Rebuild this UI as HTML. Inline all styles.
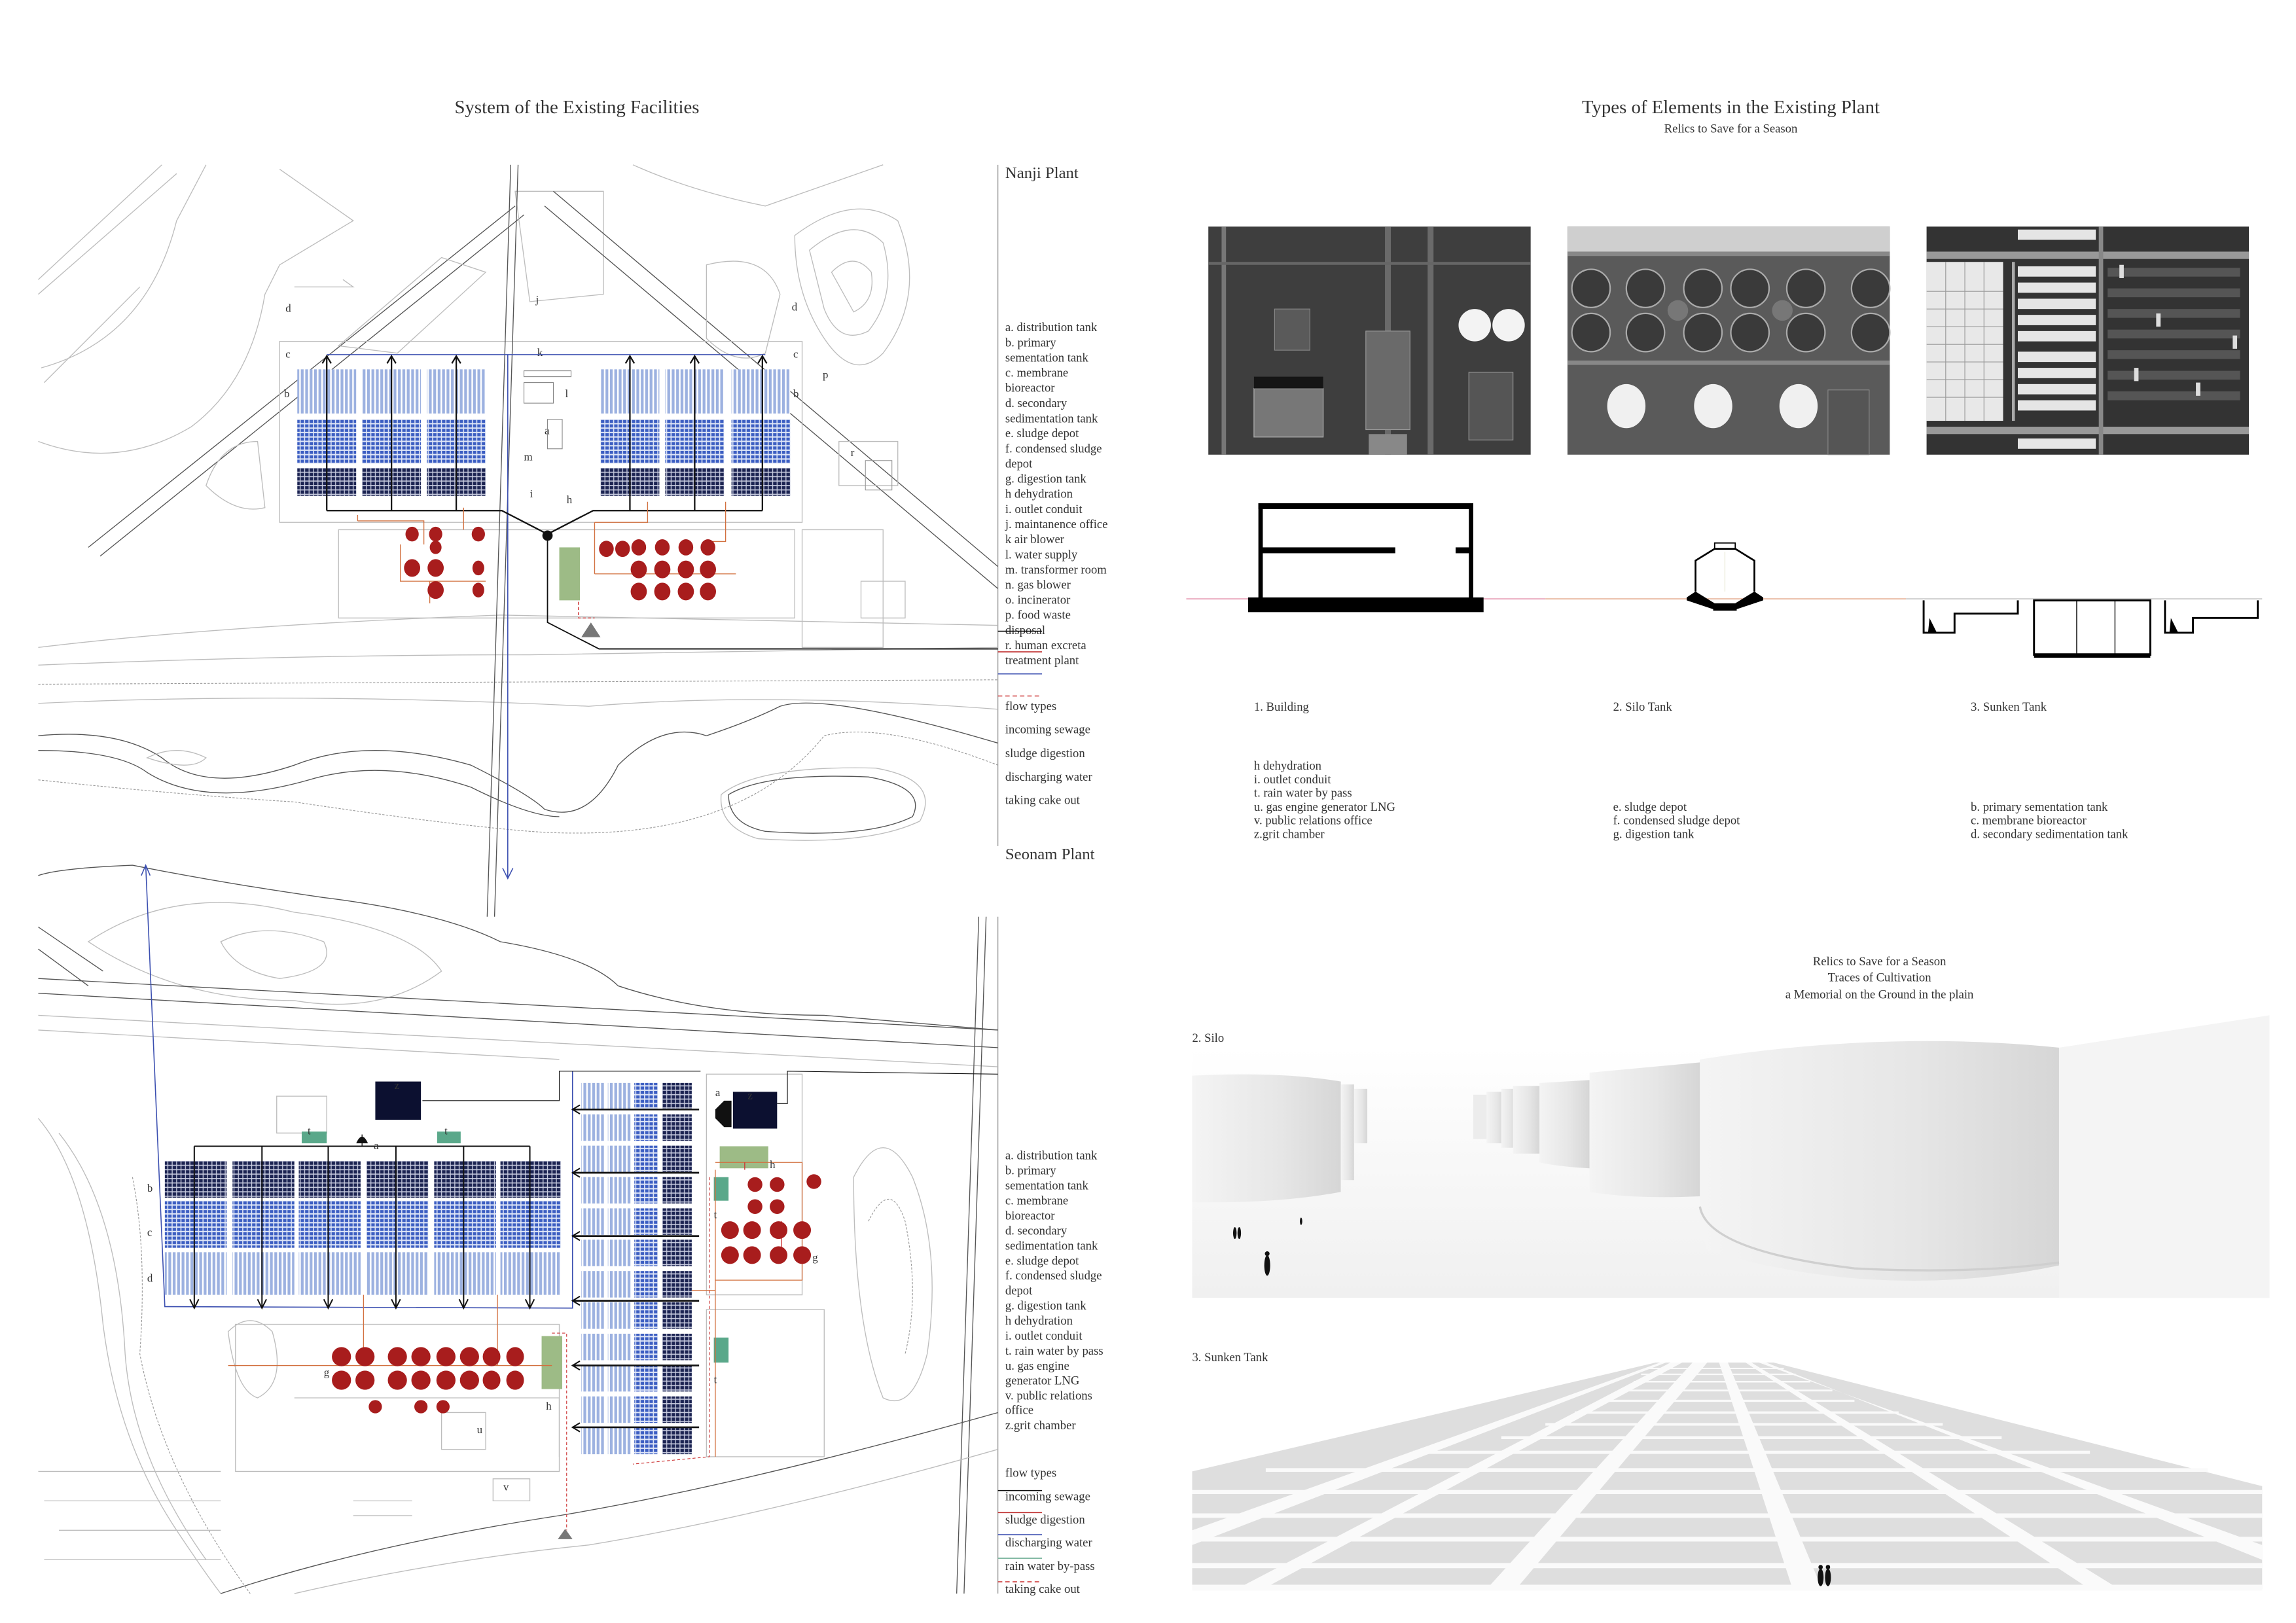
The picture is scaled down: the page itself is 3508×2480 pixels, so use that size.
<!DOCTYPE html>
<html><head><meta charset="utf-8"><style>
html,body{margin:0;padding:0;background:#fff;}
svg{display:block;}
text{font-family:"Liberation Serif",serif;fill:#333;}
.t{font-size:12.8px;}
.s{font-size:8.3px;}
.l{font-size:8.3px;}
.m{font-size:7.5px;}
.map{fill:none;stroke:#bdbdbd;stroke-width:0.6;}
.mapd{fill:none;stroke:#999;stroke-width:0.5;stroke-dasharray:1.5 1;}
.blk{fill:none;stroke:#555;stroke-width:0.6;}
</style></head><body>
<svg width="3508" height="2480" viewBox="0 0 1560 1103" preserveAspectRatio="none" xmlns="http://www.w3.org/2000/svg">
<defs>
<pattern id="lb" width="3" height="10" patternUnits="userSpaceOnUse"><rect width="3" height="10" fill="#fff"/><rect x="0.4" width="1.9" height="10" fill="#9cb1e0"/></pattern>
<pattern id="mb" width="3" height="3" patternUnits="userSpaceOnUse"><rect width="3" height="3" fill="#dfe6f7"/><rect x="0.3" y="0.4" width="2.3" height="2.1" fill="#3c5ec2"/></pattern>
<pattern id="db" width="3" height="3" patternUnits="userSpaceOnUse"><rect width="3" height="3" fill="#c9cde0"/><rect x="0.3" y="0.3" width="2.4" height="2.3" fill="#1c2452"/></pattern>
<linearGradient id="cyl" x1="0" x2="1"><stop offset="0" stop-color="#f4f4f4"/><stop offset="0.6" stop-color="#e6e6e6"/><stop offset="1" stop-color="#d6d6d6"/></linearGradient>
<linearGradient id="gnd" x1="0" y1="0" x2="0" y2="1"><stop offset="0" stop-color="#fff"/><stop offset="1" stop-color="#f0f0f0"/></linearGradient>
</defs>
<rect width="1560" height="1103" fill="#fff"/>

<!-- Titles -->
<text class="t" x="392" y="77" text-anchor="middle">System of the Existing Facilities</text>
<text class="t" x="1176" y="77" text-anchor="middle">Types of Elements in the Existing Plant</text>
<text class="s" x="1176" y="90" text-anchor="middle">Relics to Save for a Season</text>

<!-- ============ NANJI MAP ============ -->
<g>
<line x1="678" y1="112" x2="678" y2="575" stroke="#999" stroke-width="0.6"/>
<path class="map" d="M26 190 L110 112 M26 200 L120 118 M30 260 L60 230 L95 195"/>
<path class="map" d="M26 300 Q80 320 130 290 Q170 260 180 200 L190 180 L240 150 L190 115"/>
<path class="map" d="M28 250 Q100 230 120 150 L140 112"/>
<path class="blk" d="M60 372 L350 140 M68 378 L356 146"/>
<path class="map" d="M200 195 L240 195 L233 190 M230 235 L300 175 L330 185 L270 240 Z"/>
<path class="map" d="M350 130 L410 130 L410 200 L360 205 Z"/>
<path class="blk" d="M370 140 L678 400 M376 130 L678 385"/>
<path class="map" d="M430 112 Q470 130 520 140 L600 112"/>
<path class="map" d="M540 160 Q580 130 610 150 Q630 200 600 240 Q580 260 560 230 Q540 200 540 160 Z"/>
<path class="map" d="M550 170 Q580 145 600 165 Q610 200 590 225 Q570 235 560 210 Z"/>
<path class="map" d="M565 185 Q580 170 592 185 Q595 205 580 212 Z"/>
<path class="map" d="M480 180 Q520 170 530 200 L520 240 Q500 250 480 230 Z"/>
<path class="map" d="M140 330 Q150 300 175 300 L180 345 Q160 350 140 330 Z"/>
<path class="map" d="M190 232 L545 232 L545 355 L190 355 Z"/>
<path class="map" d="M230 360 L540 360 L540 420 L230 420 Z"/>
<path class="map" d="M545 360 L600 360 L600 440 L545 440 Z M570 300 L610 300 L610 330 L570 330 Z M585 395 L615 395 L615 420 L585 420 Z"/>
<path class="map" d="M26 440 Q150 425 340 418 L678 425"/>
<path class="map" d="M26 452 Q200 445 360 445 L678 440"/>
<path class="mapd" d="M26 465 L678 462"/>
<path class="map" d="M26 478 Q200 470 400 480 Q520 470 678 482"/>
<path class="blk" d="M26 500 Q80 495 110 515 Q140 540 200 520 Q250 500 320 520 Q360 540 370 550 Q400 560 420 520 Q450 490 480 500 Q510 490 530 480 Q560 470 678 505"/>
<path class="blk" d="M26 510 Q80 510 100 525 Q140 550 210 530 Q260 515 320 535 Q360 555 380 555"/>
<path class="map" d="M100 515 Q120 505 140 515 Q130 525 100 515 Z"/>
<path class="blk" d="M495 540 Q520 525 590 528 Q630 535 620 555 Q590 570 520 565 Q495 560 495 540 Z"/>
<path class="map" d="M490 540 Q515 520 595 522 Q640 530 625 558 Q590 575 515 570 Q488 562 490 540 Z"/>
<path class="mapd" d="M26 530 Q120 540 200 545 Q300 560 360 565 Q500 575 560 500 Q600 490 678 520"/>
<path class="blk" d="M347 112 L331 623 M352 112 L336 623"/>
<g class="m">
<text x="194" y="212">d</text><text x="538" y="211">d</text>
<text x="364" y="206">j</text>
<text x="194" y="243">c</text><text x="539" y="243">c</text>
<text x="365" y="242">k</text>
<text x="193" y="270">b</text><text x="539" y="270">b</text>
<text x="559" y="257">p</text>
<text x="384" y="270">l</text>
<text x="370" y="295">a</text>
<text x="356" y="313">m</text>
<text x="360" y="338">i</text>
<text x="385" y="342">h</text>
<text x="578" y="310">r</text>
</g>
<rect x="356" y="252" width="32" height="4" fill="none" stroke="#888" stroke-width="0.5"/>
<rect x="356" y="260" width="20" height="14" fill="none" stroke="#888" stroke-width="0.5"/>
<rect x="372" y="285" width="10" height="20" fill="none" stroke="#888" stroke-width="0.5"/>
<rect x="588" y="313" width="18" height="20" fill="none" stroke="#999" stroke-width="0.5"/>

<g>
<rect x="202" y="251" width="40" height="30" fill="url(#lb)"/><rect x="246" y="251" width="40" height="30" fill="url(#lb)"/><rect x="290" y="251" width="40" height="30" fill="url(#lb)"/>
<rect x="202" y="285" width="40" height="30" fill="url(#mb)"/><rect x="246" y="285" width="40" height="30" fill="url(#mb)"/><rect x="290" y="285" width="40" height="30" fill="url(#mb)"/>
<rect x="202" y="318" width="40" height="19" fill="url(#db)"/><rect x="246" y="318" width="40" height="19" fill="url(#db)"/><rect x="290" y="318" width="40" height="19" fill="url(#db)"/>
<rect x="408" y="251" width="40" height="30" fill="url(#lb)"/><rect x="452" y="251" width="40" height="30" fill="url(#lb)"/><rect x="497" y="251" width="40" height="30" fill="url(#lb)"/>
<rect x="408" y="285" width="40" height="30" fill="url(#mb)"/><rect x="452" y="285" width="40" height="30" fill="url(#mb)"/><rect x="497" y="285" width="40" height="30" fill="url(#mb)"/>
<rect x="408" y="318" width="40" height="19" fill="url(#db)"/><rect x="452" y="318" width="40" height="19" fill="url(#db)"/><rect x="497" y="318" width="40" height="19" fill="url(#db)"/>
</g>
<line x1="222" y1="241" x2="520" y2="241" stroke="#3b4fb0" stroke-width="0.7"/>
<line x1="345" y1="241" x2="345" y2="597" stroke="#3b4fb0" stroke-width="0.7"/>
<path d="M341.5 590 L345 597 L348.5 590" fill="none" stroke="#3b4fb0" stroke-width="0.7"/>
<g stroke="#111" stroke-width="1" fill="none">
<path d="M222 347 L341 347 L372 363 L403 347 L518 347"/>
<path d="M222 347 V243 M266 347 V243 M310 347 V243 M428 347 V243 M472 347 V243 M518 347 V243"/>
<path d="M219 247 L222 242 L225 247 M263 247 L266 242 L269 247 M307 247 L310 242 L313 247 M425 247 L428 242 L431 247 M469 247 L472 242 L475 247 M515 247 L518 242 L521 247"/>
<path d="M372 363 L372 423 L407 441 L678 441" stroke-width="0.8"/>
</g>
<circle cx="372" cy="364" r="3.5" fill="#111"/>
<path d="M243 354 L243 350 M243 354 L288 354 L288 370 M272 370 L272 395 L330 395 M315 345 L315 360 M404 355 L404 390 M404 355 L440 355 L440 341 M493 341 L493 368 L480 368 M404 390 L500 390 M292 395 L292 410" fill="none" stroke="#d2703f" stroke-width="0.6"/>
<path d="M393 374 L393 420 L404 420" fill="none" stroke="#c33" stroke-width="0.6" stroke-dasharray="2 1.5"/>
<g fill="#a81d1d">
<ellipse cx="280" cy="363" rx="4.5" ry="5"/><ellipse cx="296" cy="363" rx="4.5" ry="5"/><ellipse cx="325" cy="363" rx="4.5" ry="5"/>
<ellipse cx="296" cy="372" rx="4" ry="4.5"/>
<ellipse cx="280" cy="386" rx="5.5" ry="6"/><ellipse cx="296" cy="386" rx="5.5" ry="6"/><ellipse cx="325" cy="386" rx="4" ry="5"/>
<ellipse cx="296" cy="401" rx="5.5" ry="6"/><ellipse cx="325" cy="401" rx="4" ry="5"/>
<ellipse cx="412" cy="373" rx="5" ry="5.5"/><ellipse cx="423" cy="373" rx="5" ry="5.5"/><ellipse cx="434" cy="372" rx="5" ry="5.5"/><ellipse cx="450" cy="372" rx="5" ry="5.5"/><ellipse cx="466" cy="372" rx="5" ry="5.5"/><ellipse cx="481" cy="372" rx="5" ry="5.5"/>
<ellipse cx="434" cy="387" rx="5.5" ry="6"/><ellipse cx="450" cy="387" rx="5.5" ry="6"/><ellipse cx="466" cy="387" rx="5.5" ry="6"/><ellipse cx="481" cy="387" rx="5.5" ry="6"/>
<ellipse cx="434" cy="402" rx="5.5" ry="6"/><ellipse cx="450" cy="402" rx="5.5" ry="6"/><ellipse cx="466" cy="402" rx="5.5" ry="6"/><ellipse cx="481" cy="402" rx="5.5" ry="6"/>
</g>
<rect x="380" y="372" width="14" height="36" fill="#9dbb86"/>
<path d="M395 433 L401.5 423 L408 433 Z" fill="#777"/>
</g>

<!-- Nanji legend -->
<g class="l">
<text x="683" y="121" style="font-size:11px">Nanji Plant</text>
<text x="683" y="225">a. distribution tank</text>
<text x="683" y="235.5">b. primary</text>
<text x="683" y="245.8">sementation tank</text>
<text x="683" y="256">c. membrane</text>
<text x="683" y="266.3">bioreactor</text>
<text x="683" y="276.6">d. secondary</text>
<text x="683" y="287">sedimentation tank</text>
<text x="683" y="297.2">e. sludge depot</text>
<text x="683" y="307.5">f. condensed sludge</text>
<text x="683" y="317.8">depot</text>
<text x="683" y="328">g. digestion tank</text>
<text x="683" y="338.3">h dehydration</text>
<text x="683" y="348.6">i. outlet conduit</text>
<text x="683" y="359">j. maintanence office</text>
<text x="683" y="369.2">k air blower</text>
<text x="683" y="379.5">l. water supply</text>
<text x="683" y="389.8">m. transformer room</text>
<text x="683" y="400">n. gas blower</text>
<text x="683" y="410.3">o. incinerator</text>
<text x="683" y="420.6">p. food waste</text>
<text x="683" y="431">disposal</text>
<text x="683" y="441.2">r. human excreta</text>
<text x="683" y="451.5">treatment plant</text>
<text x="683" y="482.5">flow types</text>
<text x="683" y="498.3">incoming sewage</text>
<text x="683" y="514.5">sludge digestion</text>
<text x="683" y="530.5">discharging water</text>
<text x="683" y="546.5">taking cake out</text>
</g>
<line x1="678" y1="429" x2="708" y2="429" stroke="#111" stroke-width="0.7"/>
<line x1="678" y1="443" x2="708" y2="443" stroke="#b22" stroke-width="0.7"/>
<line x1="678" y1="458" x2="708" y2="458" stroke="#3b4fb0" stroke-width="0.7"/>
<line x1="678" y1="473" x2="708" y2="473" stroke="#c33" stroke-width="0.7" stroke-dasharray="3 2"/>

<!-- ============ SEONAM MAP ============ -->
<g>
<text class="l" x="683" y="584" style="font-size:11px">Seonam Plant</text>
<line x1="678" y1="623" x2="678" y2="1083" stroke="#999" stroke-width="0.6"/>
<path class="blk" d="M26 595 Q40 590 90 588 Q150 600 220 610 Q300 620 340 640 Q400 650 420 670 Q480 690 560 690 L678 700"/>
<path class="map" d="M60 640 Q120 600 200 620 Q280 630 300 660 Q260 690 200 680 Q120 680 60 640 Z"/>
<path class="map" d="M150 640 Q180 625 220 640 Q230 660 190 665 Q160 660 150 640 Z"/>
<path class="blk" d="M26 665 L678 700 M26 675 L678 712"/>
<path class="map" d="M26 690 L678 725 M26 700 L380 720"/>
<path class="blk" d="M26 630 L70 660 M26 645 L60 670"/>
<path class="blk" d="M665 623 L650 1083 M670 623 L655 1083"/>
<path class="map" d="M26 760 Q60 800 70 900 Q80 980 120 1040 Q140 1070 150 1083"/>
<path class="map" d="M40 770 Q80 820 85 920 Q90 990 140 1060"/>
<path class="mapd" d="M90 800 Q100 850 95 920 Q110 1000 170 1083"/>
<path class="map" d="M26 1000 L150 1000 M30 1020 L150 1020 M40 1040 L150 1040 M30 1060 L150 1060"/>
<path class="blk" d="M150 1083 Q250 1050 380 1030 Q500 1010 678 960"/>
<path class="map" d="M200 1083 Q300 1060 400 1050 Q520 1030 678 985"/>
<path class="map" d="M580 800 Q600 760 620 800 Q640 850 630 920 Q620 960 600 950 Q580 900 580 800 Z"/>
<path class="mapd" d="M590 830 Q605 800 615 830 Q625 880 615 920"/>
<path class="map" d="M160 900 L380 900 L380 1000 L160 1000 Z M155 905 Q170 890 185 905 Q195 940 175 950 Q160 945 155 905 Z"/>
<path class="map" d="M480 730 L545 730 L545 880 L480 880 Z M480 890 L560 890 L560 990 L480 990 Z"/>
<path class="map" d="M200 950 L380 950 L380 990 M300 960 L330 960 L330 985 L300 985 Z M335 1005 L360 1005 L360 1020 L335 1020 Z"/>
<path class="map" d="M188 745 L222 745 L222 770 L188 770 Z M240 1020 L280 1020 M240 1030 L280 1030"/>
<g>
<rect x="112" y="789" width="42" height="25" fill="url(#db)"/><rect x="158" y="789" width="42" height="25" fill="url(#db)"/><rect x="203" y="789" width="42" height="25" fill="url(#db)"/><rect x="249" y="789" width="42" height="25" fill="url(#db)"/><rect x="295" y="789" width="42" height="25" fill="url(#db)"/><rect x="340" y="789" width="41" height="25" fill="url(#db)"/>
<rect x="112" y="816" width="42" height="32" fill="url(#mb)"/><rect x="158" y="816" width="42" height="32" fill="url(#mb)"/><rect x="203" y="816" width="42" height="32" fill="url(#mb)"/><rect x="249" y="816" width="42" height="32" fill="url(#mb)"/><rect x="295" y="816" width="42" height="32" fill="url(#mb)"/><rect x="340" y="816" width="41" height="32" fill="url(#mb)"/>
<rect x="112" y="851" width="42" height="29" fill="url(#lb)"/><rect x="158" y="851" width="42" height="29" fill="url(#lb)"/><rect x="203" y="851" width="42" height="29" fill="url(#lb)"/><rect x="249" y="851" width="42" height="29" fill="url(#lb)"/><rect x="295" y="851" width="42" height="29" fill="url(#lb)"/><rect x="340" y="851" width="41" height="29" fill="url(#lb)"/>
</g>
<g>
<g id="row"><rect x="395" y="736" width="16" height="18" fill="url(#lb)"/><rect x="413" y="736" width="16" height="18" fill="url(#lb)"/><rect x="431" y="736" width="16" height="18" fill="url(#mb)"/><rect x="450" y="736" width="20" height="18" fill="url(#db)"/></g>
<use href="#row" y="21.3"/><use href="#row" y="42.6"/><use href="#row" y="63.9"/><use href="#row" y="85.2"/><use href="#row" y="106.5"/><use href="#row" y="127.8"/><use href="#row" y="149.1"/><use href="#row" y="170.4"/><use href="#row" y="191.7"/><use href="#row" y="213"/><use href="#row" y="234.3"/>
</g>
<rect x="255" y="735" width="31" height="26" fill="#0c1030"/>
<rect x="498" y="742" width="30" height="25" fill="#0c1030"/>
<path d="M486 754 L492 748 L497 748 L497 766 L492 766 L486 760 Z" fill="#111"/>
<path d="M242 777 Q246 768 250 777 Z" fill="#111"/>
<rect x="205" y="769" width="17" height="8" fill="#5aa88a"/><rect x="297" y="769" width="16" height="8" fill="#5aa88a"/>
<rect x="485" y="800" width="10" height="16" fill="#5aa88a"/><rect x="485" y="909" width="10" height="17" fill="#5aa88a"/>
<rect x="489" y="779" width="33" height="15" fill="#9dbb86"/><rect x="368" y="908" width="14" height="36" fill="#9dbb86"/>
<path d="M99 588 L112 888 L389 889 L389 728" fill="none" stroke="#3b4fb0" stroke-width="0.7"/>
<path d="M96 595 L99 588 L102 595" fill="none" stroke="#3b4fb0" stroke-width="0.7"/>
<g stroke="#111" stroke-width="0.9" fill="none">
<path d="M132 779 L360 779 M132 779 V889 M178 779 V889 M223 779 V889 M269 779 V889 M315 779 V889 M360 779 V889"/>
<path d="M129 883 L132 889 L135 883 M175 883 L178 889 L181 883 M220 883 L223 889 L226 883 M266 883 L269 889 L272 883 M312 883 L315 889 L318 883 M357 883 L360 889 L363 883"/>
<path d="M246 779 V771" stroke-width="0.6"/>
<path d="M389 754 L475 754 M389 797 L475 797 M389 840 L475 840 M389 884 L475 884 M389 928 L475 928 M389 970 L475 970" stroke-width="1.2"/>
<path d="M394 751 L389 754 L394 757 M394 794 L389 797 L394 800 M394 837 L389 840 L394 843 M394 881 L389 884 L394 887 M394 925 L389 928 L394 931 M394 967 L389 970 L394 973"/>
<path d="M287 748 L380 748 L380 728 L476 728 M528 750 L535 750 L535 728 L678 730" stroke-width="0.5"/>
</g>
<path d="M155 928 L375 928 M247 880 L247 928 M338 880 L338 928 M486 790 L545 790 L545 870 L486 870 M486 795 L486 990 M470 877 L486 877" fill="none" stroke="#d2703f" stroke-width="0.6"/>
<path d="M506 795 L506 790 M531 830 L531 850" fill="none" stroke="#c33" stroke-width="0.6"/>
<path d="M375 906 L385 906 L385 1040 M482 800 L482 990 L430 995" fill="none" stroke="#c33" stroke-width="0.5" stroke-dasharray="2 1.5"/>
<g fill="#a81d1d">
<ellipse cx="232" cy="922" rx="6.5" ry="6.5"/><ellipse cx="248" cy="922" rx="6.5" ry="6.5"/><ellipse cx="270" cy="922" rx="6.5" ry="6.5"/><ellipse cx="286" cy="922" rx="6.5" ry="6.5"/><ellipse cx="303" cy="922" rx="6.5" ry="6.5"/><ellipse cx="319" cy="922" rx="6.5" ry="6.5"/><ellipse cx="334" cy="922" rx="6" ry="6.5"/><ellipse cx="350" cy="922" rx="6" ry="6.5"/>
<ellipse cx="232" cy="938" rx="6.5" ry="6.5"/><ellipse cx="248" cy="938" rx="6.5" ry="6.5"/><ellipse cx="270" cy="938" rx="6.5" ry="6.5"/><ellipse cx="286" cy="938" rx="6.5" ry="6.5"/><ellipse cx="303" cy="938" rx="6.5" ry="6.5"/><ellipse cx="319" cy="938" rx="6.5" ry="6.5"/><ellipse cx="334" cy="938" rx="6" ry="6.5"/><ellipse cx="350" cy="938" rx="6" ry="6.5"/>
<ellipse cx="255" cy="956" rx="4.5" ry="4.5"/><ellipse cx="286" cy="956" rx="4.5" ry="4.5"/><ellipse cx="301" cy="956" rx="4.5" ry="4.5"/>
<ellipse cx="513" cy="805" rx="5" ry="5"/><ellipse cx="528" cy="805" rx="5" ry="5"/><ellipse cx="553" cy="803" rx="5" ry="5"/>
<ellipse cx="513" cy="820" rx="5" ry="5"/><ellipse cx="528" cy="820" rx="5" ry="5"/>
<ellipse cx="496" cy="836" rx="6" ry="6"/><ellipse cx="511" cy="836" rx="6" ry="6"/><ellipse cx="529" cy="836" rx="6" ry="6"/><ellipse cx="545" cy="836" rx="6" ry="6"/>
<ellipse cx="496" cy="853" rx="6" ry="6"/><ellipse cx="511" cy="853" rx="6" ry="6"/><ellipse cx="529" cy="853" rx="6" ry="6"/><ellipse cx="545" cy="853" rx="6" ry="6"/>
</g>
<path d="M379 1046 L384 1039 L389 1046 Z" fill="#777"/>
<g class="m">
<text x="268" y="740">z</text><text x="508" y="747">z</text><text x="486" y="745">a</text>
<text x="209" y="771">t</text><text x="302" y="771">t</text><text x="254" y="781">a</text>
<text x="100" y="810">b</text><text x="100" y="840">c</text><text x="100" y="871">d</text>
<text x="485" y="828">t</text><text x="485" y="940">t</text><text x="523" y="794">h</text><text x="552" y="857">g</text>
<text x="220" y="935">g</text><text x="371" y="958">h</text><text x="324" y="974">u</text><text x="342" y="1013">v</text>
</g>
</g>
<!-- Seonam legend -->
<g class="l">
<text x="683" y="788">a. distribution tank</text>
<text x="683" y="798.2">b. primary</text>
<text x="683" y="808.4">sementation tank</text>
<text x="683" y="818.6">c. membrane</text>
<text x="683" y="828.8">bioreactor</text>
<text x="683" y="839">d. secondary</text>
<text x="683" y="849.2">sedimentation tank</text>
<text x="683" y="859.4">e. sludge depot</text>
<text x="683" y="869.6">f. condensed sludge</text>
<text x="683" y="879.8">depot</text>
<text x="683" y="890">g. digestion tank</text>
<text x="683" y="900.2">h dehydration</text>
<text x="683" y="910.4">i. outlet conduit</text>
<text x="683" y="920.6">t. rain water by pass</text>
<text x="683" y="930.8">u. gas engine</text>
<text x="683" y="941">generator LNG</text>
<text x="683" y="951.2">v. public relations</text>
<text x="683" y="961">office</text>
<text x="683" y="971.4">z.grit chamber</text>
<text x="683" y="1003.5">flow types</text>
<text x="683" y="1019.5">incoming sewage</text>
<text x="683" y="1035.3">sludge digestion</text>
<text x="683" y="1051">discharging water</text>
<text x="683" y="1067">rain water by-pass</text>
<text x="683" y="1082.5">taking cake out</text>
</g>
<line x1="678" y1="1013" x2="708" y2="1013" stroke="#111" stroke-width="0.7"/>
<line x1="678" y1="1028" x2="708" y2="1028" stroke="#b22" stroke-width="0.7"/>
<line x1="678" y1="1043" x2="708" y2="1043" stroke="#3b4fb0" stroke-width="0.7"/>
<line x1="678" y1="1059" x2="708" y2="1059" stroke="#6fae94" stroke-width="0.7"/>
<line x1="678" y1="1075" x2="708" y2="1075" stroke="#c33" stroke-width="0.7" stroke-dasharray="3 2"/>

<!-- ============ PHOTOS ============ -->
<g>
<rect x="821" y="154" width="219" height="155" fill="#3e3e3e"/>
<rect x="830" y="154" width="3" height="155" fill="#777"/>
<rect x="941" y="154" width="4" height="155" fill="#6a6a6a"/><rect x="970" y="154" width="4" height="155" fill="#6a6a6a"/>
<rect x="821" y="178" width="219" height="2" fill="#666"/>
<rect x="866" y="210" width="24" height="28" fill="#5a5a5a" stroke="#888" stroke-width="0.5"/>
<rect x="852" y="264" width="47" height="33" fill="#777" stroke="#aaa" stroke-width="0.6"/>
<rect x="852" y="256" width="47" height="8" fill="#151515"/>
<rect x="928" y="225" width="30" height="67" fill="#6a6a6a" stroke="#999" stroke-width="0.5"/>
<rect x="930" y="295" width="26" height="14" fill="#888"/>
<rect x="998" y="253" width="30" height="46" fill="#555" stroke="#999" stroke-width="0.5"/>
<ellipse cx="1002" cy="221" rx="11" ry="11" fill="#f3f3f3"/><ellipse cx="1025" cy="221" rx="11" ry="11" fill="#f3f3f3"/>
</g>
<g>
<rect x="1065" y="154" width="219" height="155" fill="#5a5a5a"/>
<rect x="1065" y="154" width="219" height="17" fill="#cfcfcf"/>
<rect x="1065" y="171" width="219" height="3" fill="#888"/>
<g fill="#3a3a3a" stroke="#aaa" stroke-width="1">
<circle cx="1081" cy="196" r="13"/><circle cx="1118" cy="196" r="13"/><circle cx="1157" cy="196" r="13"/><circle cx="1189" cy="196" r="13"/><circle cx="1227" cy="196" r="13"/><circle cx="1271" cy="196" r="13"/>
<circle cx="1081" cy="226" r="13"/><circle cx="1118" cy="226" r="13"/><circle cx="1157" cy="226" r="13"/><circle cx="1189" cy="226" r="13"/><circle cx="1227" cy="226" r="13"/><circle cx="1271" cy="226" r="13"/>
</g>
<circle cx="1140" cy="211" r="7" fill="#777"/><circle cx="1211" cy="211" r="7" fill="#777"/>
<rect x="1065" y="245" width="219" height="3" fill="#888"/>
<ellipse cx="1105" cy="276" rx="13" ry="15" fill="#f0f0f0"/><ellipse cx="1164" cy="276" rx="13" ry="15" fill="#f0f0f0"/><ellipse cx="1222" cy="276" rx="13" ry="15" fill="#f0f0f0"/>
<rect x="1242" y="265" width="28" height="44" fill="#555" stroke="#888" stroke-width="0.5"/>
</g>
<g>
<rect x="1309" y="154" width="219" height="155" fill="#333"/>
<rect x="1309" y="171" width="219" height="5" fill="#999"/><rect x="1309" y="290" width="219" height="5" fill="#999"/>
<rect x="1309" y="178" width="52" height="108" fill="#e8e8e8"/>
<path d="M1309 198 H1361 M1309 210 H1361 M1309 222 H1361 M1309 234 H1361 M1309 246 H1361 M1309 258 H1361 M1309 270 H1361 M1322 178 V286 M1335 178 V286 M1348 178 V286" stroke="#999" stroke-width="0.5"/>
<rect x="1367" y="178" width="2" height="108" fill="#aaa"/><rect x="1426" y="154" width="3" height="155" fill="#888"/>
<g fill="#e5e5e5">
<rect x="1371" y="181" width="53" height="7"/><rect x="1371" y="192" width="53" height="7"/><rect x="1371" y="203" width="53" height="7"/><rect x="1371" y="214" width="53" height="7"/><rect x="1371" y="225" width="53" height="7"/><rect x="1371" y="239" width="53" height="7"/><rect x="1371" y="250" width="53" height="7"/><rect x="1371" y="261" width="53" height="7"/><rect x="1371" y="272" width="53" height="7"/><rect x="1371" y="156" width="53" height="7"/><rect x="1371" y="298" width="53" height="7"/>
</g>
<g fill="#555"><rect x="1432" y="182" width="90" height="6"/><rect x="1432" y="196" width="90" height="6"/><rect x="1432" y="210" width="90" height="6"/><rect x="1432" y="224" width="90" height="6"/><rect x="1432" y="238" width="90" height="6"/><rect x="1432" y="252" width="90" height="6"/><rect x="1432" y="266" width="90" height="6"/></g>
<g fill="#ddd"><rect x="1440" y="180" width="3" height="9"/><rect x="1465" y="213" width="3" height="9"/><rect x="1517" y="228" width="3" height="9"/><rect x="1450" y="250" width="3" height="9"/><rect x="1492" y="260" width="3" height="9"/></g>
</g>

<!-- ============ SECTIONS ============ -->
<line x1="806" y1="407" x2="1050" y2="407" stroke="#e28aa6" stroke-width="0.6"/>
<line x1="1050" y1="407" x2="1295" y2="407" stroke="#e0a080" stroke-width="0.6"/>
<line x1="1295" y1="407" x2="1537" y2="407" stroke="#bbb" stroke-width="0.6"/>
<g fill="#000">
<rect x="855" y="342" width="146" height="4"/>
<rect x="855" y="342" width="3" height="66"/><rect x="998" y="342" width="3" height="66"/>
<rect x="856" y="372" width="92" height="4"/><rect x="989" y="372" width="10" height="4"/>
<rect x="848" y="406" width="160" height="10"/>
</g>
<path d="M1152 402 L1152 381 L1165 373 L1179 373 L1192 381 L1192 402" fill="none" stroke="#000" stroke-width="1.2"/>
<path d="M1165 373 L1165 369 L1179 369 L1179 373" fill="none" stroke="#000" stroke-width="0.8"/>
<line x1="1172" y1="375" x2="1172" y2="402" stroke="#ddb" stroke-width="0.4"/>
<path d="M1146 406 L1152 402 L1165 410 L1179 410 L1192 402 L1198 406 L1198 408 L1180 414 L1164 414 L1146 408 Z" fill="#000"/>
<rect x="1164" y="412" width="16" height="3" fill="#000"/>
<g fill="none" stroke="#000" stroke-width="1.3">
<path d="M1307 408 L1307 430 L1328 430 L1328 417 L1371 417 L1371 408"/>
<path d="M1382 408 L1382 445 L1461 445 L1461 408 Z"/>
<path d="M1411 408 V445 M1437 408 V445" stroke-width="0.6"/>
<path d="M1471 408 L1471 430 L1490 430 L1490 420 L1534 420 L1534 408"/>
</g>
<path d="M1382 444 H1461 V447 H1382 Z M1311 420 L1316 430 L1310 430 Z M1475 420 L1480 430 L1474 430 Z" fill="#000"/>
<g class="l">
<text x="852" y="483">1. Building</text>
<text x="1096" y="483">2. Silo Tank</text>
<text x="1339" y="483">3. Sunken Tank</text>
<text x="852" y="523">h dehydration</text>
<text x="852" y="532.3">i. outlet conduit</text>
<text x="852" y="541.6">t. rain water by pass</text>
<text x="852" y="551">u. gas engine generator LNG</text>
<text x="852" y="560.2">v. public relations office</text>
<text x="852" y="569.5">z.grit chamber</text>
<text x="1096" y="551">e. sludge depot</text>
<text x="1096" y="560.2">f. condensed sludge depot</text>
<text x="1096" y="569.5">g. digestion tank</text>
<text x="1339" y="551">b. primary sementation tank</text>
<text x="1339" y="560.2">c. membrane bioreactor</text>
<text x="1339" y="569.5">d. secondary sedimentation tank</text>
</g>

<!-- ============ RENDERS ============ -->
<g class="l" text-anchor="middle">
<text x="1277" y="656">Relics to Save for a Season</text>
<text x="1277" y="667">Traces of Cultivation</text>
<text x="1277" y="678.5">a Memorial on the Ground in the plain</text>
</g>
<text class="l" x="810" y="708">2. Silo</text>
<text class="l" x="810" y="925">3. Sunken Tank</text>

<g>
<rect x="810" y="712" width="732" height="170" fill="url(#gnd)"/>
<path d="M1399 712 L1542 690 L1542 882 L1399 882 Z" fill="#f4f4f4"/>
<rect x="1001" y="744" width="10" height="30" fill="#ececec"/>
<rect x="1010" y="742" width="12" height="35" fill="url(#cyl)"/>
<rect x="1020" y="740" width="10" height="40" fill="url(#cyl)"/>
<rect x="1028" y="738" width="18" height="46" fill="url(#cyl)"/>
<path d="M1046 736 L1080 734 L1080 794 Q1060 793 1046 790 Z" fill="url(#cyl)"/>
<path d="M1080 729 L1155 722 L1155 813 Q1110 815 1080 810 Z" fill="url(#cyl)"/>
<path d="M1155 720 Q1280 700 1399 712 L1399 860 Q1280 885 1160 850 Q1155 835 1155 820 Z" fill="url(#cyl)"/>
<path d="M1155 820 Q1160 850 1260 862 Q1340 866 1399 858" fill="none" stroke="#cfcfcf" stroke-width="1.5"/>
<path d="M810 731 Q870 728 911 735 L911 810 Q870 818 810 817 Z" fill="url(#cyl)"/>
<rect x="911" y="737" width="9" height="65" fill="url(#cyl)"/>
<rect x="920" y="740" width="9" height="37" fill="url(#cyl)"/>
<g fill="#111">
<ellipse cx="839" cy="838" rx="1.2" ry="4"/><ellipse cx="842" cy="838" rx="1.2" ry="4"/>
<ellipse cx="861" cy="860" rx="2" ry="7"/><circle cx="861" cy="852" r="1.6"/>
<ellipse cx="884" cy="830" rx="0.8" ry="2.5"/>
</g>
</g>

<g>
<path d="M1125 926 L1205 926 L1537 1010 L1537 1080 L810 1080 L810 1000 Z" fill="#dedede"/>
<g stroke="#fafafa" fill="none">
<line x1="810" y1="1079" x2="1537" y2="1079" stroke-width="4"/>
<line x1="810" y1="1064" x2="1537" y2="1064" stroke-width="3.5"/>
<line x1="810" y1="1046" x2="1537" y2="1046" stroke-width="3.2"/>
<line x1="810" y1="1030" x2="1537" y2="1030" stroke-width="3"/>
<line x1="810" y1="1014" x2="1537" y2="1014" stroke-width="2.8"/>
<line x1="860" y1="999" x2="1500" y2="999" stroke-width="2.5"/>
<line x1="960" y1="987" x2="1420" y2="987" stroke-width="2.2"/>
<line x1="1020" y1="977" x2="1360" y2="977" stroke-width="2"/>
<line x1="1050" y1="968" x2="1320" y2="968" stroke-width="1.8"/>
<line x1="1070" y1="960" x2="1290" y2="960" stroke-width="1.6"/>
<line x1="1090" y1="952" x2="1260" y2="952" stroke-width="1.4"/>
<line x1="1100" y1="945" x2="1245" y2="945" stroke-width="1.2"/>
<line x1="1110" y1="939" x2="1230" y2="939" stroke-width="1.1"/>
<line x1="1115" y1="934" x2="1220" y2="934" stroke-width="1"/>
<line x1="1120" y1="930" x2="1212" y2="930" stroke-width="0.9"/>
<path d="M1150 926 L1010 1080 L1030 1080 L1160 926 Z" fill="#fafafa" stroke="none"/>
<path d="M1168 926 L1218 1080 L1238 1080 L1174 926 Z" fill="#fafafa" stroke="none"/>
<path d="M1186 926 L1420 1080 L1440 1080 L1190 926 Z" fill="#fafafa" stroke="none"/>
<path d="M1135 926 L840 1080 L858 1080 L1143 926 Z" fill="#fafafa" stroke="none"/>
<path d="M1195 926 L1537 1050 L1537 1060 L1200 926 Z" fill="#fafafa" stroke="none"/>
<path d="M1128 926 L810 1040 L810 1050 L1132 926 Z" fill="#fafafa" stroke="none"/>
</g>
<g fill="#111"><ellipse cx="1237" cy="1072" rx="2" ry="6"/><ellipse cx="1242" cy="1072" rx="2" ry="6"/><circle cx="1237" cy="1065" r="1.5"/><circle cx="1242" cy="1065" r="1.5"/></g>
</g>
</svg>
</body></html>
